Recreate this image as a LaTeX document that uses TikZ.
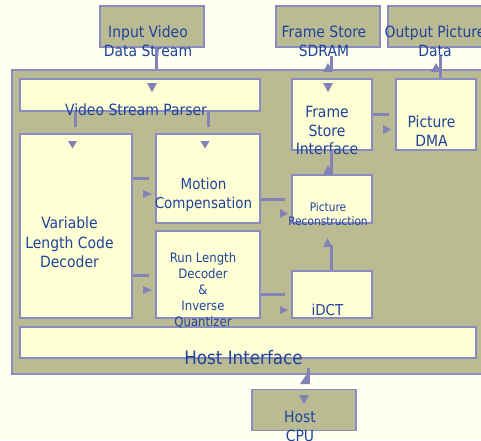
\documentclass[tikz,border=0pt]{standalone}
\usepackage{fontspec}
\setmainfont{DejaVu Sans Condensed}
\definecolor{bgc}{HTML}{FFFFF2}
\definecolor{olive}{HTML}{BBBB93}
\definecolor{boxc}{HTML}{FFFFD6}
\definecolor{bord}{HTML}{8C8CC0}
\definecolor{arrc}{HTML}{8282B4}
\definecolor{txtc}{HTML}{1F4399}
\begin{document}
\begin{tikzpicture}[x=1pt,y=-1pt,
  outerbox/.style={draw=bord,line width=1.2pt,fill=olive,inner sep=0pt,rectangle},
  topbox/.style={draw=bord,line width=1.2pt,fill=olive,inner sep=0pt,rectangle,minimum width=104pt,minimum height=41pt},
  blk/.style={draw=bord,line width=1.2pt,fill=boxc,inner sep=0pt,rectangle},
  lbl/.style={text=txtc,inner sep=0pt,align=center},
  conn/.style={draw=arrc,line width=3pt},
  tri/.style={fill=arrc}]
\useasboundingbox[fill=bgc] (0,0) rectangle (481,440);
% outer block
\node[outerbox,minimum width=480pt,minimum height=304pt] (outer) at (252,222) {};
% top boxes
\node[topbox] (input) at (152,26.5) {};
\node[topbox] (sdram) at (328,26.5) {};
\node[topbox] (output) at (440,26.5) {};
% inner blocks
\node[blk,minimum width=240pt,minimum height=32pt] (parser) at (140,95) {};
\node[blk,minimum width=80pt,minimum height=71pt] (fsi) at (332,114.5) {};
\node[blk,minimum width=80pt,minimum height=71pt] (dma) at (436,114.5) {};
\node[blk,minimum width=112pt,minimum height=184pt] (vlc) at (76,226) {};
\node[blk,minimum width=104pt,minimum height=89pt] (mc) at (208,178.5) {};
\node[blk,minimum width=104pt,minimum height=87pt] (rld) at (208,274.5) {};
\node[blk,minimum width=80pt,minimum height=48pt] (pr) at (332,199) {};
\node[blk,minimum width=80pt,minimum height=47pt] (idct) at (332,294.5) {};
\node[blk,minimum width=456pt,minimum height=31pt] (host) at (248,342.5) {};
\node[topbox] (cpu) at (304,410) {};
% labels
\node[lbl,font=\fontsize{15.5}{19}\selectfont] (tinput) at (148,41.5) {Input Video\\Data Stream};
\node[lbl,font=\fontsize{15.5}{19}\selectfont] (tsdram) at (324,41.5) {Frame Store\\SDRAM};
\node[lbl,font=\fontsize{15.5}{19}\selectfont] (toutput) at (435,41.5) {Output Picture\\Data};
\node[lbl,font=\fontsize{15.5}{19}\selectfont] (tparser) at (136,110) {Video Stream Parser};
\node[lbl,font=\fontsize{15.5}{18.8}\selectfont] (tfsi) at (327,130.5) {Frame\\Store\\Interface};
\node[lbl,font=\fontsize{15.5}{19}\selectfont] (tdma) at (431.5,131.5) {Picture\\DMA};
\node[lbl,font=\fontsize{15.5}{19.3}\selectfont] (tvlc) at (69.5,242.5) {Variable\\Length Code\\Decoder};
\node[lbl,font=\fontsize{15}{18.5}\selectfont] (tmc) at (203.5,195) {Motion\\Compensation};
\node[lbl,font=\fontsize{13}{16}\selectfont] (trld) at (203,290) {Run Length\\Decoder\\\&\\Inverse\\Quantizer};
\node[lbl,font=\fontsize{11.8}{14}\selectfont] (tpr) at (328,214) {Picture\\Reconstruction};
\node[lbl,font=\fontsize{15}{18}\selectfont] (tidct) at (327.5,310) {iDCT};
\node[lbl,font=\fontsize{18.6}{22}\selectfont] (thost) at (243.5,358) {Host Interface};
\node[lbl,font=\fontsize{15.5}{18.5}\selectfont] (tcpu) at (300,426.5) {Host\\CPU};
% connector lines
\draw[conn] ([xshift=4pt]input.south) -- ([xshift=4pt]input.south |- outer.north);
\draw[conn] ([xshift=3pt,yshift=-8pt]sdram.south) -- ([xshift=3pt]sdram.south |- outer.north);
\draw[conn] ([yshift=-8pt]output.south) -- (output.south |- dma.north);
\draw[conn] ([yshift=0.5pt]fsi.east) -- ([yshift=0.5pt]fsi.east -| 389,0);
\draw[conn] (parser.south -| 75,0) -- (75,127);
\draw[conn] (parser.south -| 208,0) -- (208,127);
\draw[conn] (vlc.east |- 0,178) -- (149,178);
\draw[conn] (vlc.east |- 0,275) -- (149,275);
\draw[conn] (mc.east |- 0,199) -- (285,199);
\draw[conn] (rld.east |- 0,294) -- (285,294);
\draw[conn] (idct.north -| 331,0) -- (331,245);
\draw[conn] (fsi.south -| 331,0) -- (pr.north -| 331,0);
\draw[conn] (host.south -| 308,0) ++(0,9) -- (308,383);
% arrowheads
\fill[tri] (147,83) -- (157,83) -- (152,92) -- cycle;
\fill[tri] (323,72) -- (333,72) -- (328,63) -- cycle;
\fill[tri] (323,83) -- (333,83) -- (328,92) -- cycle;
\fill[tri] (431,72) -- (441,72) -- (436,63) -- cycle;
\fill[tri] (383,125) -- (383,134) -- (391,129.5) -- cycle;
\fill[tri] (68,141) -- (77,141) -- (72.5,148.5) -- cycle;
\fill[tri] (200.5,141) -- (209.5,141) -- (205,148.5) -- cycle;
\fill[tri] (143,190) -- (143,198) -- (152,194) -- cycle;
\fill[tri] (143,286) -- (143,294) -- (152,290) -- cycle;
\fill[tri] (280,209) -- (280,218) -- (288,213.5) -- cycle;
\fill[tri] (280,306) -- (280,314) -- (288,310) -- cycle;
\fill[tri] (323,247) -- (332,247) -- (327.5,238) -- cycle;
\fill[tri] (323,175) -- (333,175) -- (328,165) -- cycle;
\fill[tri] (300,384) -- (310,384) -- (307.5,373) -- cycle;
\fill[tri] (299,395) -- (309,395) -- (304,404) -- cycle;
\end{tikzpicture}
\end{document}
